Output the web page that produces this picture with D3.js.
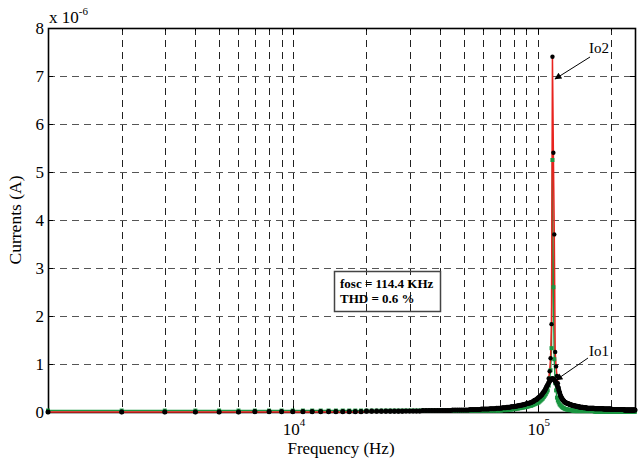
<!DOCTYPE html>
<html>
<head>
<meta charset="utf-8">
<script src="https://cdn.jsdelivr.net/npm/d3@7"></script>
<style>
body { margin: 0; background: #fff; }
text { font-family: "Liberation Serif", "Times New Roman", serif; fill: #000; }
</style>
</head>
<body>
<svg id="chart" width="643" height="463"></svg>
<script>
// frequency sweep, kHz
var freqKHz = [
  1,2,3,4,5,6,7,8,9,10,
  11,12,13,14,15,16,17,18,19,20,
  21,22,23,24,25,26,27,28,29,30,
  31,32,33,34,35,36,37,38,39,40,
  41,42,43,44,45,46,47,48,49,50,
  51,52,53,54,55,56,57,58,59,60,
  61,62,63,64,65,66,67,68,69,70,
  71,72,73,74,75,76,77,78,79,80,
  81,82,83,84,85,86,87,88,89,90,
  91,92,93,94,95,96,97,98,99,100,
  101,102,103,104,105,106,107,108,109,110,
  111,112,113,114,115,116,117,118,119,120,
  121,122,123,124,125,126,127,128,129,130,
  131,132,133,134,135,136,137,138,139,140,
  141,142,143,144,145,146,147,148,149,150,
  151,152,153,154,155,156,157,158,159,160,
  161,162,163,164,165,166,167,168,169,170,
  171,172,173,174,175,176,177,178,179,180,
  181,182,183,184,185,186,187,188,189,190,
  191,192,193,194,195,196,197,198,199,200,
  201,202,203,204,205,206,207,208,209,210,
  211,212,213,214,215,216,217,218,219,220,
  221,222,223,224,225,226,227,228,229,230,
  231,232,233,234,235,236,237,238,239,240,
  241,242,243,244,245,246,247,248,249,250
];

// black dotted broad curve (x 1e-6 A)
var ioBlack = [
  0,0,0,0,0,0,0.01,0.01,0.01,0.01,
  0.01,0.01,0.01,0.01,0.01,0.01,0.01,0.01,0.01,0.02,
  0.02,0.02,0.02,0.02,0.02,0.02,0.02,0.02,0.02,0.02,
  0.02,0.02,0.02,0.03,0.03,0.03,0.03,0.03,0.03,0.03,
  0.03,0.03,0.03,0.03,0.04,0.04,0.04,0.04,0.04,0.04,
  0.04,0.04,0.05,0.05,0.05,0.05,0.05,0.05,0.06,0.06,
  0.06,0.06,0.06,0.07,0.07,0.07,0.07,0.08,0.08,0.08,
  0.08,0.09,0.09,0.09,0.10,0.10,0.10,0.11,0.11,0.11,
  0.12,0.12,0.13,0.13,0.14,0.14,0.15,0.15,0.16,0.17,
  0.18,0.18,0.19,0.20,0.21,0.22,0.24,0.25,0.26,0.28,
  0.30,0.32,0.34,0.36,0.39,0.42,0.45,0.49,0.53,0.57,
  0.61,0.64,0.67,0.69,0.70,0.69,0.67,0.64,0.61,0.57,
  0.52,0.46,0.40,0.34,0.30,0.27,0.25,0.23,0.21,0.20,
  0.19,0.18,0.17,0.17,0.16,0.15,0.15,0.14,0.14,0.13,
  0.13,0.13,0.12,0.12,0.12,0.11,0.11,0.11,0.10,0.10,
  0.10,0.10,0.10,0.09,0.09,0.09,0.09,0.09,0.08,0.08,
  0.08,0.08,0.08,0.08,0.08,0.08,0.08,0.08,0.08,0.08,
  0.07,0.07,0.07,0.07,0.07,0.07,0.07,0.07,0.07,0.07,
  0.07,0.07,0.07,0.07,0.07,0.06,0.06,0.06,0.06,0.06,
  0.06,0.06,0.06,0.06,0.06,0.06,0.06,0.06,0.06,0.06,
  0.05,0.05,0.05,0.05,0.05,0.05,0.05,0.05,0.05,0.05,
  0.05,0.05,0.05,0.05,0.05,0.05,0.05,0.05,0.05,0.05,
  0.05,0.05,0.05,0.05,0.05,0.04,0.04,0.04,0.04,0.04,
  0.04,0.04,0.04,0.04,0.04,0.04,0.04,0.04,0.04,0.04,
  0.04,0.04,0.04,0.04,0.04,0.04,0.04,0.04,0.04,0.04
];

// Io2: red line with black dots
var io2 = [
  0,0,0,0,0,0,0,0,0,0,
  0,0,0,0,0,0,0,0,0,0.01,
  0.01,0.01,0.01,0.01,0.01,0.01,0.01,0.01,0.02,0.02,
  0.02,0.02,0.02,0.03,0.03,0.03,0.03,0.03,0.03,0.03,
  0.03,0.03,0.03,0.03,0.04,0.04,0.04,0.04,0.04,0.04,
  0.04,0.04,0.05,0.05,0.05,0.05,0.05,0.05,0.06,0.06,
  0.06,0.06,0.06,0.07,0.07,0.07,0.07,0.08,0.08,0.08,
  0.08,0.09,0.09,0.09,0.10,0.10,0.10,0.11,0.11,0.11,
  0.12,0.12,0.13,0.13,0.14,0.14,0.15,0.15,0.16,0.17,
  0.18,0.18,0.19,0.20,0.21,0.22,0.24,0.25,0.26,0.28,
  0.30,0.32,0.34,0.36,0.39,0.42,0.45,0.49,0.53,0.57,
  0.70,0.85,1.12,1.83,7.40,5.40,3.70,1.25,0.95,0.75,
  0.60,0.50,0.42,0.36,0.32,0.28,0.25,0.23,0.21,0.20,
  0.19,0.18,0.17,0.17,0.16,0.15,0.15,0.14,0.14,0.13,
  0.13,0.13,0.12,0.12,0.12,0.11,0.11,0.11,0.10,0.10,
  0.10,0.10,0.10,0.09,0.09,0.09,0.09,0.09,0.08,0.08,
  0.08,0.08,0.08,0.08,0.08,0.08,0.08,0.08,0.08,0.08,
  0.07,0.07,0.07,0.07,0.07,0.07,0.07,0.07,0.07,0.07,
  0.07,0.07,0.07,0.07,0.07,0.06,0.06,0.06,0.06,0.06,
  0.06,0.06,0.06,0.06,0.06,0.06,0.06,0.06,0.06,0.06,
  0.05,0.05,0.05,0.05,0.05,0.05,0.05,0.05,0.05,0.05,
  0.05,0.05,0.05,0.05,0.05,0.05,0.05,0.05,0.05,0.05,
  0.05,0.05,0.05,0.05,0.05,0.04,0.04,0.04,0.04,0.04,
  0.04,0.04,0.04,0.04,0.04,0.04,0.04,0.04,0.04,0.04,
  0.04,0.04,0.04,0.04,0.04,0.04,0.04,0.04,0.04,0.04
];

// Io1: green line with square markers
var io1 = [
  0.03,0.03,0.03,0.03,0.03,0.03,0.03,0.03,0.03,0.03,
  0.03,0.03,0.03,0.03,0.03,0.03,0.03,0.03,0.03,0.03,
  0.03,0.03,0.03,0.03,0.03,0.03,0.03,0.03,0.03,0.03,
  0.03,0.03,0.03,0.03,0.03,0.03,0.03,0.03,0.03,0.03,
  0.03,0.03,0.03,0.03,0.03,0.03,0.03,0.03,0.03,0.03,
  0.03,0.03,0.03,0.03,0.03,0.03,0.03,0.03,0.03,0.03,
  0.03,0.03,0.03,0.03,0.03,0.03,0.03,0.03,0.03,0.03,
  0.03,0.04,0.04,0.04,0.04,0.05,0.05,0.05,0.06,0.06,
  0.06,0.07,0.07,0.08,0.08,0.09,0.09,0.10,0.10,0.11,
  0.11,0.12,0.13,0.13,0.14,0.15,0.16,0.17,0.18,0.19,
  0.20,0.22,0.24,0.26,0.28,0.31,0.34,0.37,0.41,0.45,
  0.55,0.70,0.87,1.33,5.25,2.60,1.10,0.60,0.45,0.30,
  0.24,0.20,0.16,0.14,0.12,0.10,0.09,0.08,0.07,0.06,
  0.06,0.05,0.05,0.05,0.04,0.04,0.04,0.04,0.03,0.03,
  0.02,0.02,0.02,0.02,0.02,0.02,0.02,0.02,0.02,0.02,
  0.02,0.02,0.02,0.02,0.02,0.02,0.02,0.02,0.02,0.02,
  0.02,0.02,0.02,0.02,0.02,0.02,0.02,0.02,0.02,0.02,
  0.01,0.01,0.01,0.01,0.01,0.01,0.01,0.01,0.01,0.01,
  0.01,0.01,0.01,0.01,0.01,0.01,0.01,0.01,0.01,0.01,
  0.01,0.01,0.01,0.01,0.01,0.01,0.01,0.01,0.01,0.01,
  0.01,0.01,0.01,0.01,0.01,0.01,0.01,0.01,0.01,0.01,
  0.01,0.01,0.01,0.01,0.01,0.01,0.01,0.01,0.01,0.01,
  0.01,0.01,0.01,0.01,0.01,0.01,0.01,0.01,0.01,0.01,
  0.01,0.01,0.01,0.01,0.01,0.01,0.01,0.01,0.01,0.01,
  0.01,0.01,0.01,0.01,0.01,0.01,0.01,0.01,0.01,0.01
];

var yTicks = [0, 1, 2, 3, 4, 5, 6, 7, 8];
var xMajor = [1e4, 1e5];
var xMajorExp = ["4", "5"];
var noteLines = ["fosc = 114.4 KHz", "THD = 0.6 %"];

var svg = d3.select("#chart");
var L = 48, R = 635, T = 28, B = 412;

var x = d3.scaleLog().domain([1000, 250000]).range([L, R]);
var y = d3.scaleLinear().domain([0, 8]).range([B, T]);

function px(v) { return Math.round(v) + 0.5; }

// grid
var grid = svg.append("g").attr("stroke", "#222").attr("stroke-width", 1).attr("stroke-dasharray", "7,5");
var gridFreqs = x.ticks().filter(function(f) { return f > 1000 && f < 250000; });
grid.selectAll("line.vx").data(gridFreqs).enter().append("line")
  .attr("x1", function(d) { return px(x(d)); }).attr("x2", function(d) { return px(x(d)); })
  .attr("y1", T).attr("y2", B);
grid.selectAll("line.hy").data(yTicks.filter(function(d) { return d > 0 && d < 8; })).enter().append("line")
  .attr("stroke", "#555")
  .attr("x1", L).attr("x2", R)
  .attr("y1", function(d) { return px(y(d)); }).attr("y2", function(d) { return px(y(d)); });

// frame
svg.append("rect").attr("x", L + 0.5).attr("y", T + 0.5).attr("width", R - L).attr("height", B - T)
  .attr("fill", "none").attr("stroke", "#000").attr("stroke-width", 1.6);

// ticks (inward)
var tk = svg.append("g").attr("stroke", "#000");
tk.selectAll("line.yl").data(yTicks).enter().append("line")
  .attr("x1", L).attr("x2", L + 5).attr("y1", function(d) { return px(y(d)); }).attr("y2", function(d) { return px(y(d)); });
tk.selectAll("line.yr").data(yTicks).enter().append("line")
  .attr("x1", R - 5).attr("x2", R).attr("y1", function(d) { return px(y(d)); }).attr("y2", function(d) { return px(y(d)); });
tk.selectAll("line.xb").data(gridFreqs).enter().append("line")
  .attr("x1", function(d) { return px(x(d)); }).attr("x2", function(d) { return px(x(d)); })
  .attr("y1", B).attr("y2", function(d) { return xMajor.indexOf(d) >= 0 ? B - 6 : B - 3; });
tk.selectAll("line.xt").data(gridFreqs).enter().append("line")
  .attr("x1", function(d) { return px(x(d)); }).attr("x2", function(d) { return px(x(d)); })
  .attr("y1", T).attr("y2", function(d) { return xMajor.indexOf(d) >= 0 ? T + 6 : T + 3; });

// y tick labels
svg.selectAll("text.yt").data(yTicks).enter().append("text")
  .attr("x", L - 4).attr("y", function(d) { return y(d) + 6; })
  .attr("text-anchor", "end").attr("font-size", 17)
  .text(function(d) { return d; });

// exponent label
var ex = svg.append("text").attr("x", L + 1).attr("y", 23).attr("font-size", 17);
ex.append("tspan").text("x 10");
ex.append("tspan").attr("dy", -8).attr("font-size", 11).text("-6");

// x tick labels
xMajor.forEach(function(f, i) {
  var t = svg.append("text").attr("x", x(f) - 10).attr("y", 435).attr("font-size", 17);
  t.append("tspan").text("10");
  t.append("tspan").attr("dy", -9).attr("font-size", 11).text(xMajorExp[i]);
});

// axis titles
svg.append("text").attr("x", 341).attr("y", 454).attr("text-anchor", "middle").attr("font-size", 17)
  .text("Frequency (Hz)");
svg.append("text").attr("transform", "translate(21,220) rotate(-90)").attr("text-anchor", "middle")
  .attr("font-size", 17.5).text("Currents (A)");

// data
var pts = freqKHz.map(function(f, i) {
  return { f: f * 1000, black: ioBlack[i], io2: io2[i], io1: io1[i] };
});

var lineG = d3.line().x(function(d) { return x(d.f); }).y(function(d) { return y(d.io1); });
var lineR = d3.line().x(function(d) { return x(d.f); }).y(function(d) { return y(d.io2); });

svg.append("path").datum(pts).attr("d", lineG).attr("fill", "none").attr("stroke", "#1a9641").attr("stroke-width", 1.5);
svg.append("path").datum(pts).attr("d", lineR).attr("fill", "none").attr("stroke", "#e8231e").attr("stroke-width", 1.5);

svg.append("g").selectAll("rect").data(pts).enter().append("rect")
  .attr("x", function(d) { return x(d.f) - 2; }).attr("y", function(d) { return y(d.io1) - 2; })
  .attr("width", 4).attr("height", 4).attr("fill", "#1a9641");

svg.append("g").selectAll("circle").data(pts).enter().append("circle")
  .attr("cx", function(d) { return x(d.f); }).attr("cy", function(d) { return y(d.black); })
  .attr("r", 2.5).attr("fill", "#000");

svg.append("g").selectAll("circle").data(pts).enter().append("circle")
  .attr("cx", function(d) { return x(d.f); }).attr("cy", function(d) { return y(d.io2); })
  .attr("r", 2.2).attr("fill", "#000");

// annotation box
svg.append("rect").attr("x", 334.5).attr("y", 271.5).attr("width", 106).attr("height", 40)
  .attr("fill", "none").attr("stroke", "#444").attr("stroke-width", 1.5);
svg.selectAll("text.note").data(noteLines).enter().append("text")
  .attr("x", 340).attr("y", function(d, i) { return 288 + i * 15; })
  .attr("font-size", 13).attr("font-weight", "bold").text(function(d) { return d; });

// arrows
var defs = svg.append("defs");
defs.append("marker").attr("id", "ah").attr("viewBox", "0 0 10 10").attr("refX", 9).attr("refY", 5)
  .attr("markerWidth", 9).attr("markerHeight", 7).attr("orient", "auto").attr("markerUnits", "userSpaceOnUse")
  .append("path").attr("d", "M0,0L10,5L0,10z").attr("fill", "#000");

svg.append("line").attr("x1", 590).attr("y1", 57).attr("x2", 555).attr("y2", 79)
  .attr("stroke", "#000").attr("stroke-width", 1).attr("marker-end", "url(#ah)");
svg.append("text").attr("x", 589).attr("y", 53).attr("font-size", 15).text("Io2");

svg.append("line").attr("x1", 588).attr("y1", 358).attr("x2", 556).attr("y2", 380)
  .attr("stroke", "#000").attr("stroke-width", 1).attr("marker-end", "url(#ah)");
svg.append("text").attr("x", 589).attr("y", 356).attr("font-size", 15).text("Io1");
</script>
</body>
</html>
